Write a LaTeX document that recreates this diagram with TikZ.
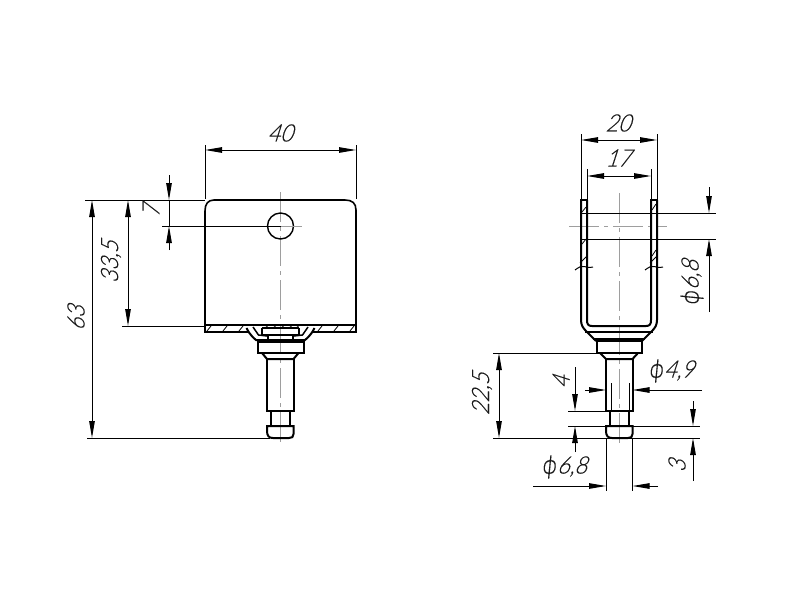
\documentclass[tikz,border=0pt]{standalone}
\usepackage{fontspec}
\usetikzlibrary{arrows.meta}
\newfontfamily\dimfont[FakeSlant=0.32,FakeStretch=0.9,FakeBold=0.25]{Lato Light}
\newfontfamily\phifont[FakeSlant=0.1,FakeBold=0.25]{DejaVu Sans ExtraLight}
\newcommand{\phis}{{\phifont ϕ}}
\definecolor{axis}{gray}{0.62}
\tikzset{
  x=1pt,y=-1pt,
  thk/.style={line width=2pt,line join=miter,black},
  thn/.style={line width=1pt,black},
  hat/.style={line width=0.8pt,black},
  axl/.style={line width=1pt,axis,dash pattern=on 30pt off 5pt on 4pt off 5pt},
  ar/.style={thn,-{Triangle[length=17pt,width=5.5pt]}},
  br/.style={thn,{Triangle[length=17pt,width=5.5pt]}-{Triangle[length=17pt,width=5.5pt]}},
  dimtext/.style={font=\dimfont\fontsize{24}{24}\selectfont,inner sep=0pt,text=black!90},
}
\begin{document}
\begin{tikzpicture}
\useasboundingbox (0,0) rectangle (800,600);
% ---------- left view ----------
\draw[axl] (280.5,192) -- (280.5,445);
\draw[thk,line width=1.6pt] (205,326) -- (205,211) .. controls (205,204) and (208,200) .. (214,200) -- (345,200) .. controls (352,200) and (356,203) .. (356,210) -- (356,326);
\draw[thk,line width=1.4pt] (280.5,226) circle (13);
\draw[thn] (162,226) -- (280.5,226);
\draw[axis,line width=1pt] (280.5,226) -- (302,226);
% plate
\draw[thk] (205,325) -- (356,325);
\draw[thk] (205,325) -- (205,332) -- (248,332);
\draw[thk] (356,325) -- (356,332) -- (313,332);
\foreach \h in {209,225,241,320,336,352} \draw[hat] (\h-2,331) -- (\h+2,326);
\foreach \h in {266,274,282,290,297} \draw[hat] (\h-1.5,328.5) -- (\h+1.5,326);
\draw[thk] (262,328) -- (299,328);
% spun sheet
\draw[thk] (246.5,328) .. controls (248,331) and (250,335) .. (256,340) -- (305,340) .. controls (311,335) and (313,331) .. (314.5,328);
\draw[thk,line width=1.5pt] (253,327) -- (258.5,335) -- (267,336);
\draw[thk,line width=1.5pt] (308,327) -- (302.5,335) -- (294,336);
% washer
\draw[thk] (262,328) -- (262,335) -- (299,335) -- (299,328);
\draw[thk] (268,335) -- (268,340);
\draw[thk] (293,335) -- (293,340);
% pin
\draw[thk] (258,342) rectangle (303.5,353);
\draw[thk] (262,353) -- (267,359) -- (293.5,359) -- (298.5,353);
\draw[thk] (267,359) -- (267,411) -- (293.5,411) -- (293.5,359);
\draw[thk] (271,411) -- (271,426);
\draw[thk] (290,411) -- (290,426);
\draw[thk] (267,426) -- (293.5,426) -- (293.5,434) .. controls (293.5,437) and (292,438) .. (289,438) -- (273,438) .. controls (269,438) and (267,436) .. (267,431) -- cycle;
% dims
\draw[thn] (205,199) -- (205,145);
\draw[thn] (356,199) -- (356,145);
\draw[br] (205,150) -- (356,150);
\node[dimtext] (t40) at (280,133) {40};
\draw[thn] (85,200) -- (205,200);
\draw[ar] (169,175) -- (169,200);
\draw[ar] (169,250) -- (169,226);
\draw[thn] (169,200) -- (169,226);
\node[dimtext,rotate=90] (t7) at (151,211) {7};
\draw[thn] (122,326) -- (205,326);
\draw[br] (128,200) -- (128,326);
\node[dimtext,rotate=90] (t335) at (111,262) {33,5};
\draw[thn] (87,438) -- (270,438);
\draw[br] (92,200) -- (92,438);
\node[dimtext,rotate=90] (t63) at (76,318) {63};
% ---------- right view ----------
\draw[axl] (619.5,193) -- (619.5,446);
\draw[axl] (569,226) -- (667,226);
\draw[thk] (580,200) -- (588,200);
\draw[thk] (650,200) -- (658,200);
\draw[thk] (587,200) -- (587,320) .. controls (587,324) and (588,326) .. (592,326) -- (646,326) .. controls (650,326) and (651,324) .. (651,320) -- (651,200);
\draw[thk] (581,200) -- (581,320) .. controls (581,325) and (583,328) .. (586,331) -- (596,341);
\draw[thk] (657,200) -- (657,320) .. controls (657,325) and (655,328) .. (652,331) -- (642,341);
\draw[thk] (585,332) -- (653,332);
\draw[thk] (593,338.5) -- (645,338.5);
\draw[thk] (597,341) rectangle (642,353);
\draw[thk] (600,353) -- (606,359) -- (632.5,359) -- (638,353);
\draw[thk] (606,359) -- (606,411) -- (632.5,411) -- (632.5,359);
\draw[thk] (610,411) -- (610,426);
\draw[thk] (629,411) -- (629,426);
\draw[thk] (606,426) -- (632.5,426) -- (632.5,434) .. controls (632.5,437) and (631,438) .. (628,438) -- (612,438) .. controls (608,438) and (606,436) .. (606,431) -- cycle;
% wall hatching
\foreach \v in {209,241} \draw[hat] (582,\v+3) -- (586,\v-2);
\draw[hat] (580,263) -- (587,256);
\foreach \v in {206,252} \draw[hat] (652,\v+4) -- (656,\v-2);
\draw[hat] (650,263) -- (657,256);
% breaks
\draw[thn] (575,270) .. controls (579,267) and (581,266) .. (584,266.5) .. controls (587,267) and (589,268) .. (593,267);
\draw[thn] (645,270) .. controls (649,267) and (651,266) .. (654,266.5) .. controls (657,267) and (659,268) .. (663,267);
% dims top
\draw[thn] (581,199) -- (581,134);
\draw[thn] (657,199) -- (657,134);
\draw[br] (581,140) -- (657,140);
\node[dimtext] (t20) at (618,123) {20};
\draw[thn] (587,199) -- (587,169);
\draw[thn] (651,199) -- (651,169);
\draw[br] (587,176) -- (651,176);
\node[dimtext] (t17) at (618,158) {17};
% phi 6,8 right
\draw[thn] (581,213) -- (716,213);
\draw[thn] (581,239) -- (716,239);
\draw[ar] (709,187) -- (709,213);
\draw[ar] (709,312) -- (709,239);
\node[dimtext,rotate=90] (t68a) at (692,283) {\phis6,8};
% 22,5
\draw[thn] (493,353) -- (597,353);
\draw[thn] (493,438) -- (700,438);
\draw[br] (499,353) -- (499,438);
\node[dimtext,rotate=90] (t225) at (482,394) {22,5};
% 4
\draw[thn] (568,411) -- (610,411);
\draw[thn] (568,426) -- (700,426);
\draw[ar] (575,367) -- (575,411);
\draw[ar] (575,452) -- (575,426);
\node[dimtext,rotate=90] (t4) at (561,382) {4};
% 3
\draw[ar] (693,401) -- (693,426);
\draw[ar] (693,481) -- (693,438);
\node[dimtext,rotate=90] (t3) at (677,466) {3};
% phi 4,9
\draw[thn] (611,383) -- (611,411);
\draw[thn] (629,383) -- (629,411);
\draw[ar] (585,390) -- (606,390);
\draw[ar] (702,390) -- (632.5,390);
\node[dimtext] (t49) at (671,371) {\phis4,9};
% phi 6,8 bottom
\draw[thn] (606,438) -- (606,491);
\draw[thn] (632.5,438) -- (632.5,491);
\draw[ar] (533,486) -- (606,486);
\draw[ar] (658,486) -- (632.5,486);
\node[dimtext] (t68b) at (564,467) {\phis6,8};
\end{tikzpicture}
\end{document}
